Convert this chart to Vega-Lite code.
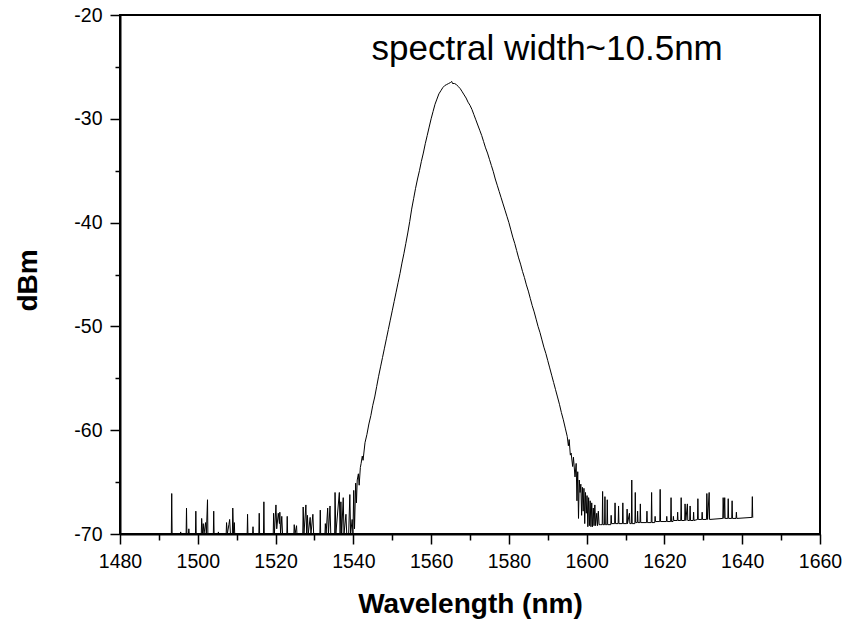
{
  "$schema": "https://vega.github.io/schema/vega-lite/v6.json",
  "width": 700,
  "height": 519,
  "autosize": "none",
  "padding": {"left": 120, "top": 15, "right": 27, "bottom": 89},
  "background": "white",
  "config": {
    "view": {"stroke": "black", "strokeWidth": 2},
    "font": "Liberation Sans",
    "axis": {"grid": false}
  },
  "datasets": {
    "spectrum": [
      {"wl":1493.0,"dbm":-70},{"wl":1493.2,"dbm":-70},{"wl":1493.3,"dbm":-66.1},{"wl":1493.4,"dbm":-70},
      {"wl":1495.5,"dbm":-70},{"wl":1495.6,"dbm":-69.8},{"wl":1495.7,"dbm":-70},
      {"wl":1497.0,"dbm":-70},{"wl":1497.1,"dbm":-67.5},{"wl":1497.2,"dbm":-70},{"wl":1497.6,"dbm":-70},{"wl":1497.7,"dbm":-69.5},{"wl":1497.8,"dbm":-70},
      {"wl":1499.4,"dbm":-70},{"wl":1499.5,"dbm":-67.8},{"wl":1499.6,"dbm":-70},
      {"wl":1500.9,"dbm":-70},{"wl":1501.0,"dbm":-68.5},{"wl":1501.2,"dbm":-70},{"wl":1501.4,"dbm":-69.0},{"wl":1501.6,"dbm":-70},{"wl":1502.0,"dbm":-68.9},{"wl":1502.2,"dbm":-70},{"wl":1502.5,"dbm":-66.7},{"wl":1502.6,"dbm":-70},
      {"wl":1504.0,"dbm":-70},{"wl":1504.1,"dbm":-67.8},{"wl":1504.2,"dbm":-70},
      {"wl":1505.2,"dbm":-70},{"wl":1505.3,"dbm":-69.8},{"wl":1505.4,"dbm":-70},
      {"wl":1507.3,"dbm":-70},{"wl":1507.4,"dbm":-68.9},{"wl":1507.6,"dbm":-70},{"wl":1508.0,"dbm":-69.1},{"wl":1508.2,"dbm":-68.6},{"wl":1508.4,"dbm":-70},{"wl":1508.9,"dbm":-70},{"wl":1509.0,"dbm":-67.5},{"wl":1509.2,"dbm":-70},{"wl":1509.4,"dbm":-68.9},{"wl":1509.5,"dbm":-70},
      {"wl":1512.7,"dbm":-70},{"wl":1512.8,"dbm":-68.1},{"wl":1512.9,"dbm":-70},
      {"wl":1514.1,"dbm":-70},{"wl":1514.2,"dbm":-69.3},{"wl":1514.3,"dbm":-70},
      {"wl":1515.7,"dbm":-70},{"wl":1515.8,"dbm":-68.0},{"wl":1515.9,"dbm":-70},{"wl":1516.9,"dbm":-70},{"wl":1517.0,"dbm":-66.9},{"wl":1517.1,"dbm":-70},
      {"wl":1519.4,"dbm":-70},{"wl":1519.5,"dbm":-68.0},{"wl":1519.7,"dbm":-70},{"wl":1520.1,"dbm":-67.2},{"wl":1520.3,"dbm":-69.5},{"wl":1520.7,"dbm":-68.0},{"wl":1521.0,"dbm":-69.0},{"wl":1521.1,"dbm":-67.9},{"wl":1521.3,"dbm":-70},{"wl":1521.6,"dbm":-68.3},{"wl":1521.8,"dbm":-70},
      {"wl":1522.9,"dbm":-70},{"wl":1523.0,"dbm":-68.3},{"wl":1523.1,"dbm":-70},
      {"wl":1524.7,"dbm":-70},{"wl":1524.8,"dbm":-69.1},{"wl":1525.0,"dbm":-70},{"wl":1525.4,"dbm":-69.2},{"wl":1525.5,"dbm":-70},
      {"wl":1527.0,"dbm":-70},{"wl":1527.1,"dbm":-67.4},{"wl":1527.3,"dbm":-70},{"wl":1527.8,"dbm":-67.2},{"wl":1528.0,"dbm":-70},{"wl":1528.2,"dbm":-68.2},{"wl":1528.4,"dbm":-70},{"wl":1528.9,"dbm":-68.4},{"wl":1529.1,"dbm":-70},{"wl":1529.6,"dbm":-68.1},{"wl":1529.8,"dbm":-70},
      {"wl":1531.4,"dbm":-70},{"wl":1531.5,"dbm":-67.7},{"wl":1531.6,"dbm":-70},
      {"wl":1532.7,"dbm":-70},{"wl":1532.8,"dbm":-69.0},{"wl":1533.0,"dbm":-70},{"wl":1533.4,"dbm":-67.5},{"wl":1533.6,"dbm":-70},{"wl":1534.0,"dbm":-67.3},{"wl":1534.2,"dbm":-70},
      {"wl":1535.2,"dbm":-70},{"wl":1535.3,"dbm":-66.0},{"wl":1535.5,"dbm":-70},{"wl":1536.4,"dbm":-66.0},{"wl":1536.6,"dbm":-70},{"wl":1536.8,"dbm":-66.9},{"wl":1537.0,"dbm":-70},{"wl":1537.4,"dbm":-66.5},{"wl":1537.6,"dbm":-70},{"wl":1538.1,"dbm":-68.1},{"wl":1538.3,"dbm":-70},{"wl":1538.8,"dbm":-70},{"wl":1539.1,"dbm":-66.2},{"wl":1539.3,"dbm":-70},{"wl":1539.7,"dbm":-68.6},{"wl":1539.9,"dbm":-70},{"wl":1540.1,"dbm":-65.8},{"wl":1540.3,"dbm":-69.5},{"wl":1540.6,"dbm":-65.1},{"wl":1540.8,"dbm":-67.0},
      {"wl":1541.0,"dbm":-64.8},{"wl":1541.3,"dbm":-64.2},{"wl":1541.5,"dbm":-65.3},{"wl":1541.8,"dbm":-63.6},{"wl":1542.0,"dbm":-63.2},{"wl":1542.3,"dbm":-62.5},{"wl":1542.5,"dbm":-62.9},
      {"wl":1543.0,"dbm":-61.2},{"wl":1543.5,"dbm":-60.4},{"wl":1544.0,"dbm":-59.4},{"wl":1544.5,"dbm":-58.6},{"wl":1545.0,"dbm":-57.6},{"wl":1545.5,"dbm":-56.8},{"wl":1546.0,"dbm":-55.8},{"wl":1546.5,"dbm":-54.8},
      {"wl":1547.0,"dbm":-53.9},{"wl":1547.5,"dbm":-53.0},{"wl":1548.0,"dbm":-52.1},{"wl":1548.5,"dbm":-51.2},{"wl":1549.0,"dbm":-50.3},{"wl":1549.5,"dbm":-49.4},{"wl":1550.0,"dbm":-48.5},{"wl":1550.5,"dbm":-47.6},
      {"wl":1551.0,"dbm":-46.7},{"wl":1551.5,"dbm":-45.8},{"wl":1552.0,"dbm":-44.9},{"wl":1552.5,"dbm":-43.9},{"wl":1553.0,"dbm":-43.0},{"wl":1553.5,"dbm":-42.0},{"wl":1554.0,"dbm":-41.0},{"wl":1554.5,"dbm":-39.9},
      {"wl":1555.0,"dbm":-38.7},{"wl":1555.5,"dbm":-37.7},{"wl":1556.0,"dbm":-36.7},{"wl":1556.5,"dbm":-35.8},{"wl":1557.0,"dbm":-35.0},{"wl":1557.5,"dbm":-34.1},{"wl":1558.0,"dbm":-33.3},{"wl":1558.5,"dbm":-32.4},
      {"wl":1559.0,"dbm":-31.6},{"wl":1559.5,"dbm":-30.8},{"wl":1560.0,"dbm":-30.0},{"wl":1560.5,"dbm":-29.3},{"wl":1561.0,"dbm":-28.6},{"wl":1561.5,"dbm":-28.1},{"wl":1562.0,"dbm":-27.6},{"wl":1562.5,"dbm":-27.3},
      {"wl":1563.0,"dbm":-27.0},{"wl":1563.5,"dbm":-26.8},{"wl":1564.0,"dbm":-26.7},{"wl":1564.5,"dbm":-26.6},{"wl":1565.0,"dbm":-26.5},{"wl":1565.3,"dbm":-26.4},{"wl":1565.5,"dbm":-26.6},{"wl":1566.0,"dbm":-26.6},
      {"wl":1566.5,"dbm":-26.7},{"wl":1567.0,"dbm":-26.9},{"wl":1567.5,"dbm":-27.1},{"wl":1568.0,"dbm":-27.4},{"wl":1568.5,"dbm":-27.7},{"wl":1569.0,"dbm":-28.0},{"wl":1569.5,"dbm":-28.4},{"wl":1570.0,"dbm":-28.7},
      {"wl":1570.5,"dbm":-29.1},{"wl":1571.0,"dbm":-29.6},{"wl":1571.5,"dbm":-30.1},{"wl":1572.0,"dbm":-30.6},{"wl":1572.5,"dbm":-31.1},{"wl":1573.0,"dbm":-31.6},{"wl":1573.5,"dbm":-32.2},{"wl":1574.0,"dbm":-32.8},
      {"wl":1574.5,"dbm":-33.3},{"wl":1575.0,"dbm":-33.9},{"wl":1575.5,"dbm":-34.5},{"wl":1576.0,"dbm":-35.1},{"wl":1576.5,"dbm":-35.8},{"wl":1577.0,"dbm":-36.4},{"wl":1577.5,"dbm":-37.0},{"wl":1578.0,"dbm":-37.6},
      {"wl":1578.5,"dbm":-38.2},{"wl":1579.0,"dbm":-38.8},{"wl":1579.5,"dbm":-39.4},{"wl":1580.0,"dbm":-40.0},{"wl":1580.5,"dbm":-40.7},{"wl":1581.0,"dbm":-41.4},{"wl":1581.5,"dbm":-42.0},{"wl":1582.0,"dbm":-42.7},
      {"wl":1582.5,"dbm":-43.4},{"wl":1583.0,"dbm":-44.0},{"wl":1583.5,"dbm":-44.7},{"wl":1584.0,"dbm":-45.3},{"wl":1584.5,"dbm":-46.0},{"wl":1585.0,"dbm":-46.6},{"wl":1585.5,"dbm":-47.3},{"wl":1586.0,"dbm":-48.0},
      {"wl":1586.5,"dbm":-48.6},{"wl":1587.0,"dbm":-49.3},{"wl":1587.5,"dbm":-50.0},{"wl":1588.0,"dbm":-50.6},{"wl":1588.5,"dbm":-51.3},{"wl":1589.0,"dbm":-52.0},{"wl":1589.5,"dbm":-52.6},{"wl":1590.0,"dbm":-53.3},
      {"wl":1590.5,"dbm":-54.0},{"wl":1591.0,"dbm":-54.7},{"wl":1591.5,"dbm":-55.4},{"wl":1592.0,"dbm":-56.1},{"wl":1592.5,"dbm":-56.8},{"wl":1593.0,"dbm":-57.5},{"wl":1593.5,"dbm":-58.3},{"wl":1594.0,"dbm":-59.0},
      {"wl":1594.5,"dbm":-59.8},{"wl":1595.0,"dbm":-60.6},{"wl":1595.3,"dbm":-61.5},{"wl":1595.5,"dbm":-60.9},{"wl":1595.8,"dbm":-62.4},{"wl":1596.0,"dbm":-62.2},
      {"wl":1596.4,"dbm":-63.5},{"wl":1596.6,"dbm":-62.6},{"wl":1597.0,"dbm":-64.5},{"wl":1597.3,"dbm":-63.2},{"wl":1597.5,"dbm":-66.8},{"wl":1597.7,"dbm":-64.0},{"wl":1597.9,"dbm":-68.5},{"wl":1598.1,"dbm":-64.8},
      {"wl":1598.3,"dbm":-66.0},{"wl":1598.5,"dbm":-65.2},{"wl":1598.7,"dbm":-68.2},{"wl":1598.9,"dbm":-65.5},{"wl":1599.1,"dbm":-67.8},{"wl":1599.3,"dbm":-65.6},{"wl":1599.5,"dbm":-69.0},{"wl":1599.7,"dbm":-66.0},
      {"wl":1599.9,"dbm":-68.0},{"wl":1600.1,"dbm":-66.3},{"wl":1600.3,"dbm":-69.3},{"wl":1600.5,"dbm":-66.5},{"wl":1600.7,"dbm":-69.2},{"wl":1600.9,"dbm":-66.8},{"wl":1601.1,"dbm":-69.3},{"wl":1601.3,"dbm":-67.0},
      {"wl":1601.5,"dbm":-69.3},{"wl":1601.7,"dbm":-67.5},{"wl":1601.9,"dbm":-69.2},{"wl":1602.1,"dbm":-67.2},{"wl":1602.3,"dbm":-69.2},{"wl":1602.6,"dbm":-68.0},{"wl":1602.8,"dbm":-69.2},{"wl":1603.0,"dbm":-67.8},
      {"wl":1603.2,"dbm":-69.1},{"wl":1603.5,"dbm":-69.1},
      {"wl":1604.0,"dbm":-69.1},{"wl":1604.1,"dbm":-65.9},{"wl":1604.2,"dbm":-69.1},{"wl":1604.6,"dbm":-69.1},{"wl":1604.7,"dbm":-66.4},{"wl":1604.8,"dbm":-69.1},{"wl":1605.2,"dbm":-69.1},{"wl":1605.3,"dbm":-66.7},{"wl":1605.4,"dbm":-69.1},
      {"wl":1606.2,"dbm":-69.1},{"wl":1606.3,"dbm":-68.2},{"wl":1606.4,"dbm":-69.0},
      {"wl":1607.2,"dbm":-69.0},{"wl":1607.3,"dbm":-67.0},{"wl":1607.4,"dbm":-69.0},{"wl":1608.1,"dbm":-69.0},{"wl":1608.2,"dbm":-67.3},{"wl":1608.3,"dbm":-69.0},{"wl":1609.2,"dbm":-69.0},{"wl":1609.3,"dbm":-67.0},{"wl":1609.4,"dbm":-69.0},
      {"wl":1610.3,"dbm":-69.0},{"wl":1610.4,"dbm":-67.6},{"wl":1610.5,"dbm":-69.0},{"wl":1611.0,"dbm":-68.0},{"wl":1611.1,"dbm":-69.0},{"wl":1611.5,"dbm":-69.0},{"wl":1611.6,"dbm":-64.8},{"wl":1611.7,"dbm":-69.0},{"wl":1612.4,"dbm":-69.0},{"wl":1612.5,"dbm":-66.0},{"wl":1612.6,"dbm":-68.9},
      {"wl":1613.0,"dbm":-68.9},{"wl":1613.1,"dbm":-67.8},{"wl":1613.2,"dbm":-68.9},
      {"wl":1613.7,"dbm":-68.9},{"wl":1613.8,"dbm":-67.1},{"wl":1613.9,"dbm":-68.9},{"wl":1615.4,"dbm":-68.9},{"wl":1615.5,"dbm":-67.8},{"wl":1615.6,"dbm":-68.9},{"wl":1616.6,"dbm":-68.9},{"wl":1616.7,"dbm":-66.0},{"wl":1616.8,"dbm":-68.9},
      {"wl":1617.5,"dbm":-68.9},{"wl":1617.6,"dbm":-68.3},{"wl":1617.7,"dbm":-68.8},{"wl":1618.8,"dbm":-68.8},{"wl":1618.9,"dbm":-65.7},{"wl":1619.0,"dbm":-68.8},{"wl":1620.5,"dbm":-68.8},{"wl":1620.6,"dbm":-68.3},{"wl":1620.7,"dbm":-68.8},
      {"wl":1621.6,"dbm":-68.8},{"wl":1621.7,"dbm":-66.5},{"wl":1621.8,"dbm":-68.8},{"wl":1622.2,"dbm":-68.8},{"wl":1622.3,"dbm":-68.3},{"wl":1622.4,"dbm":-68.7},{"wl":1623.3,"dbm":-68.7},{"wl":1623.4,"dbm":-67.9},{"wl":1623.5,"dbm":-68.7},
      {"wl":1624.2,"dbm":-68.7},{"wl":1624.3,"dbm":-66.5},{"wl":1624.4,"dbm":-68.7},{"wl":1625.2,"dbm":-68.7},{"wl":1625.3,"dbm":-67.1},{"wl":1625.5,"dbm":-68.7},{"wl":1625.9,"dbm":-67.1},{"wl":1626.0,"dbm":-68.7},
      {"wl":1626.5,"dbm":-68.7},{"wl":1626.6,"dbm":-67.3},{"wl":1626.7,"dbm":-68.7},
      {"wl":1627.4,"dbm":-68.7},{"wl":1627.5,"dbm":-67.9},{"wl":1627.6,"dbm":-68.7},{"wl":1628.5,"dbm":-68.6},{"wl":1628.6,"dbm":-66.6},{"wl":1628.7,"dbm":-68.6},{"wl":1629.6,"dbm":-68.6},{"wl":1629.7,"dbm":-67.9},{"wl":1629.8,"dbm":-68.6},
      {"wl":1630.8,"dbm":-68.6},{"wl":1630.9,"dbm":-66.1},{"wl":1631.1,"dbm":-68.6},{"wl":1631.5,"dbm":-66.0},{"wl":1631.6,"dbm":-68.6},
      {"wl":1635.0,"dbm":-68.5},{"wl":1635.1,"dbm":-66.5},{"wl":1635.3,"dbm":-68.5},{"wl":1635.5,"dbm":-66.5},{"wl":1635.6,"dbm":-68.5},{"wl":1636.3,"dbm":-68.5},{"wl":1636.4,"dbm":-66.6},{"wl":1636.5,"dbm":-68.5},
      {"wl":1637.3,"dbm":-68.5},{"wl":1637.4,"dbm":-66.8},{"wl":1637.5,"dbm":-68.5},{"wl":1638.4,"dbm":-68.5},{"wl":1638.5,"dbm":-67.9},{"wl":1638.6,"dbm":-68.5},
      {"wl":1642.5,"dbm":-68.4},{"wl":1642.6,"dbm":-66.4},{"wl":1642.7,"dbm":-68.4},{"wl":1642.8,"dbm":-68.4}
    ],
    "note": [
      {"wl": 1544.7, "dbm": -24.34, "label": "spectral width~10.5nm"}
    ]
  },
  "layer": [
    {
      "data": {"name": "spectrum"},
      "mark": {"type": "line", "color": "black", "strokeWidth": 1, "clip": true, "interpolate": "linear"},
      "encoding": {
        "x": {
          "field": "wl", "type": "quantitative",
          "scale": {"domain": [1480, 1660], "nice": false, "zero": false},
          "sort": null,
          "axis": {
            "orient": "bottom",
            "values": [1480, 1500, 1520, 1540, 1560, 1580, 1600, 1620, 1640, 1660],
            "labelExpr": "'' + datum.value",
            "title": "Wavelength (nm)",
            "titleFont": "Liberation Sans", "titleFontSize": 28, "titleFontWeight": "bold", "titleColor": "black",
            "titleX": 350, "titleY": 78, "titleBaseline": "alphabetic", "titleAlign": "center",
            "labelFont": "Liberation Sans", "labelFontSize": 19.5, "labelColor": "black", "labelPadding": 8,
            "labelFlush": false, "labelOverlap": false,
            "tickSize": 10, "tickWidth": 1.5, "tickColor": "black",
            "domainColor": "black", "domainWidth": 2, "grid": false
          }
        },
        "y": {
          "field": "dbm", "type": "quantitative",
          "scale": {"domain": [-70, -20], "nice": false, "zero": false},
          "axis": {
            "orient": "left",
            "values": [-70, -60, -50, -40, -30, -20],
            "labelExpr": "datum.value < 0 ? '-' + abs(datum.value) : '' + datum.value",
            "title": "dBm",
            "titleFont": "Liberation Sans", "titleFontSize": 28, "titleFontWeight": "bold", "titleColor": "black",
            "titleAngle": -90, "titleX": -84, "titleY": 265, "titleBaseline": "alphabetic", "titleAlign": "center",
            "labelFont": "Liberation Sans", "labelFontSize": 19.5, "labelColor": "black", "labelPadding": 8,
            "labelFlush": false, "labelOverlap": false,
            "tickSize": 10, "tickWidth": 1.5, "tickColor": "black",
            "domainColor": "black", "domainWidth": 2, "grid": false
          }
        }
      }
    },
    {
      "data": {"name": "note"},
      "mark": {"type": "text", "align": "left", "baseline": "alphabetic", "font": "Liberation Sans", "fontSize": 35, "color": "black"},
      "encoding": {
        "x": {
          "field": "wl", "type": "quantitative",
          "axis": {
            "orient": "bottom",
            "values": [1490, 1510, 1530, 1550, 1570, 1590, 1610, 1630, 1650],
            "labels": false, "title": null, "domain": false, "grid": false,
            "tickSize": 6, "tickWidth": 1.5, "tickColor": "black"
          }
        },
        "y": {
          "field": "dbm", "type": "quantitative",
          "axis": {
            "orient": "left",
            "values": [-65, -55, -45, -35, -25],
            "labels": false, "title": null, "domain": false, "grid": false,
            "tickSize": 5, "tickWidth": 1.5, "tickColor": "black"
          }
        },
        "text": {"field": "label"}
      }
    }
  ],
  "resolve": {"axis": {"x": "independent", "y": "independent"}}
}
